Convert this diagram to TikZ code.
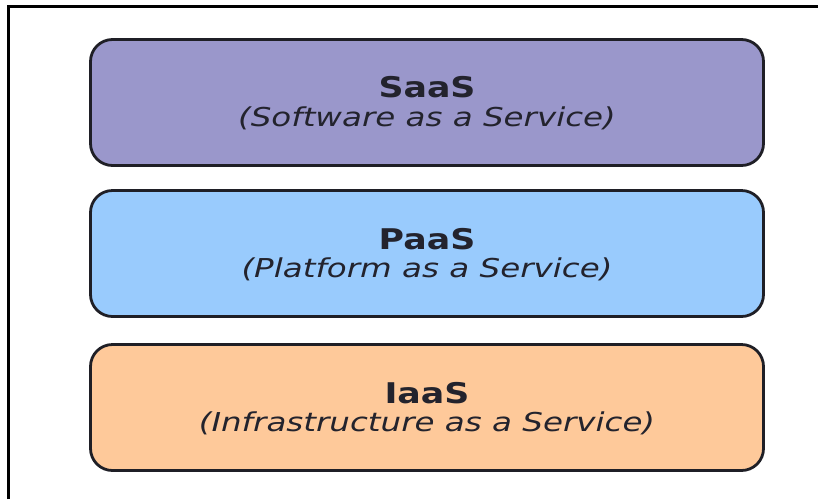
\documentclass[tikz,border=0pt]{standalone}
\usepackage{fontspec}
\setmainfont{DejaVu Sans}
\definecolor{saasfill}{HTML}{9A97CB}
\definecolor{paasfill}{HTML}{99CBFD}
\definecolor{iaasfill}{HTML}{FEC99A}
\definecolor{boxline}{HTML}{1F1F26}
\definecolor{textcol}{HTML}{23232D}
\begin{document}
\begin{tikzpicture}[x=1pt,y=1pt,
  layer/.style={draw=boxline, line width=2.8pt, rounded corners=22pt,
    minimum width=673pt, minimum height=126pt, inner sep=0pt},
  title/.style={anchor=base, inner sep=0pt, text=textcol, xscale=1.22,
    font=\fontsize{28.5}{28.5}\selectfont\bfseries},
  subtitle/.style={anchor=base, inner sep=0pt, text=textcol, xscale=1.25,
    font=\fontsize{26}{26}\selectfont\itshape}]
  \useasboundingbox (0,0) rectangle (818,-499);
  \fill[white] (0,0) rectangle (818,-499);
  % outer frame
  \coordinate (fbl) at (8.5,-499);
  \coordinate (ftl) at (8.5,-6.5);
  \coordinate (ftr) at (818,-6.5);
  \draw[line width=2.4pt, black] (fbl) -- (ftl) -- (ftr);
  % service layers
  \node[layer, fill=saasfill] (saas) at (427,-102.5) {};
  \node[layer, fill=paasfill] (paas) at (427,-253.5) {};
  \node[layer, fill=iaasfill] (iaas) at (427,-407.5) {};
  % labels
  \node[title] (saast) at (427,-97) {SaaS};
  \node[subtitle] (saass) at (427,-126) {(Software as a Service)};
  \node[title] (paast) at (427,-249) {PaaS};
  \node[subtitle] (paass) at (427,-277) {(Platform as a Service)};
  \node[title] (iaast) at (427,-403) {IaaS};
  \node[subtitle] (iaass) at (427,-431) {(Infrastructure as a Service)};
\end{tikzpicture}
\end{document}
